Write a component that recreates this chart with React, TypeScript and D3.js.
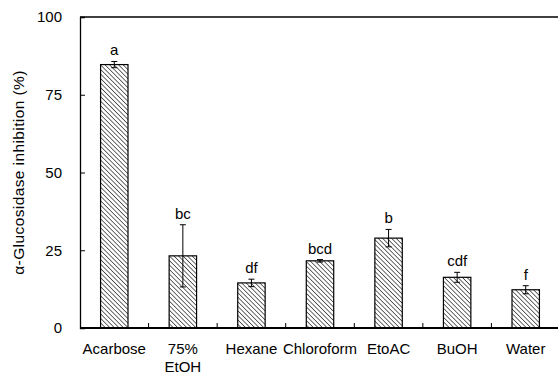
import React, { useEffect, useRef } from 'react';
import * as d3 from 'd3';

// Data
const categories = ['Acarbose', '75% EtOH', 'Hexane', 'Chloroform', 'EtoAC', 'BuOH', 'Water'];
const inhibition = [84.7, 23.2, 14.5, 21.6, 28.9, 16.3, 12.3];
const errors = [1.0, 10.0, 1.2, 0.4, 2.8, 1.6, 1.3];
const letters = ['a', 'bc', 'df', 'bcd', 'b', 'cdf', 'f'];
const yTicks = [0, 25, 50, 75, 100];

const App = () => {
    const svgRef = useRef<SVGSVGElement>(null);

    useEffect(() => {
        const width = 558;
        const height = 374;
        const margin = { top: 17, right: -2, bottom: 46, left: 80 };
        const font = 'Liberation Sans, Arial, sans-serif';
        const fs = 15;

        const svg = d3.select(svgRef.current)
            .attr('width', width)
            .attr('height', height)
            .style('position', 'absolute')
            .style('left', '0px')
            .style('top', '0px')
            .style('display', 'block');

        svg.selectAll('*').remove();

        // Hatch pattern
        const pattern = svg.append('defs')
            .append('pattern')
            .attr('id', 'hatch')
            .attr('patternUnits', 'userSpaceOnUse')
            .attr('width', 3.2)
            .attr('height', 3.2)
            .attr('patternTransform', 'rotate(45)');
        pattern.append('rect')
            .attr('width', 3.2).attr('height', 3.2).attr('fill', '#fff');
        pattern.append('line')
            .attr('x1', 0).attr('y1', 0).attr('x2', 3.2).attr('y2', 0)
            .attr('stroke', '#3a3a3a').attr('stroke-width', 1.5);

        // Scales
        const x = d3.scaleBand()
            .domain(categories)
            .range([margin.left, width - margin.right])
            .paddingInner(0.6)
            .paddingOuter(0.3);

        const step = x.step();

        const y = d3.scaleLinear()
            .domain([0, 100])
            .range([height - margin.bottom, margin.top]);

        // Bars
        svg.append('g')
            .selectAll('rect')
            .data(inhibition)
            .join('rect')
            .attr('x', (_, i) => x(categories[i])!)
            .attr('y', d => y(d))
            .attr('width', x.bandwidth())
            .attr('height', d => y(0) - y(d))
            .attr('fill', 'url(#hatch)')
            .attr('stroke', '#000')
            .attr('stroke-width', 1.2);

        // Error bars
        const eb = svg.append('g').attr('stroke', '#000').attr('stroke-width', 1);
        inhibition.forEach((v, i) => {
            const cx = x(categories[i])! + x.bandwidth() / 2;
            const top = y(v + errors[i]);
            const bot = y(v - errors[i]);
            eb.append('line').attr('x1', cx).attr('x2', cx).attr('y1', top).attr('y2', bot);
            eb.append('line').attr('x1', cx - 3).attr('x2', cx + 3).attr('y1', top).attr('y2', top);
            eb.append('line').attr('x1', cx - 3).attr('x2', cx + 3).attr('y1', bot).attr('y2', bot);
        });

        // Significance letters
        svg.append('g')
            .selectAll('text')
            .data(letters)
            .join('text')
            .attr('x', (_, i) => x(categories[i])! + x.bandwidth() / 2)
            .attr('y', (_, i) => y(inhibition[i] + errors[i]) - 6)
            .attr('text-anchor', 'middle')
            .attr('font-family', font)
            .attr('font-size', fs)
            .text(d => d);

        // Frame top line
        svg.append('line')
            .attr('x1', margin.left).attr('x2', width)
            .attr('y1', y(100)).attr('y2', y(100))
            .attr('stroke', '#000').attr('stroke-width', 1.3);

        // Y axis
        const yAxis = svg.append('g')
            .attr('transform', `translate(${margin.left},0)`)
            .call(d3.axisLeft(y).tickValues(yTicks).tickSize(-5).tickPadding(18));
        yAxis.select('.domain').attr('stroke-width', 1.3);
        yAxis.selectAll('text')
            .attr('font-family', font)
            .attr('font-size', fs)
            .attr('fill', '#000');

        // X axis
        const xAxis = svg.append('g')
            .attr('transform', `translate(0,${y(0)})`);
        xAxis.append('line')
            .attr('x1', margin.left).attr('x2', width)
            .attr('stroke', '#000').attr('stroke-width', 2);
        xAxis.selectAll('line.tick')
            .data(d3.range(1, categories.length))
            .join('line')
            .attr('class', 'tick')
            .attr('x1', i => margin.left + i * step)
            .attr('x2', i => margin.left + i * step)
            .attr('y1', 0).attr('y2', -5)
            .attr('stroke', '#000');
        const labels = xAxis.selectAll('text')
            .data(categories)
            .join('text')
            .attr('x', d => x(d)! + x.bandwidth() / 2)
            .attr('y', 26)
            .attr('text-anchor', 'middle')
            .attr('font-family', font)
            .attr('font-size', fs);
        labels.each(function (d) {
            const t = d3.select(this);
            const parts = d === '75% EtOH' ? ['75%', 'EtOH'] : [d];
            parts.forEach((p, k) => {
                t.append('tspan')
                    .attr('x', x(d)! + x.bandwidth() / 2)
                    .attr('dy', k === 0 ? 0 : 18)
                    .text(p);
            });
        });

        // Y title
        svg.append('text')
            .attr('transform', `translate(24,${(y(0) + y(100)) / 2}) rotate(-90)`)
            .attr('text-anchor', 'middle')
            .attr('font-family', font)
            .attr('font-size', 15.5)
            .attr('letter-spacing', 0.4)
            .text('α-Glucosidase inhibition (%)');
    }, []);

    return <svg ref={svgRef}></svg>;
};

export default App;
